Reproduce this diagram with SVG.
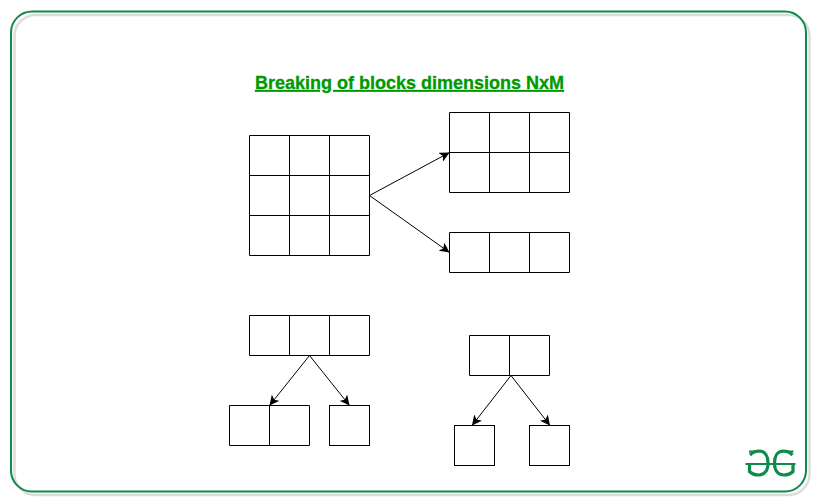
<svg xmlns="http://www.w3.org/2000/svg" width="819" height="504" viewBox="0 0 819 504">
<style>
.c{fill:none;stroke:#000;stroke-width:1}
.l{fill:none;stroke:#000;stroke-width:1;marker-end:url(#a)}
.g{fill:none;stroke:#0f8a4a;stroke-width:2}
.b{fill:none;stroke:#0f8a4a;stroke-width:3.2}
</style>
<defs><marker id="a" markerUnits="userSpaceOnUse" markerWidth="12" markerHeight="10" refX="10" refY="5" orient="auto"><path d="M0 0L10 5L0 10L2.500 5Z" fill="#000"/></marker></defs>
<rect width="819" height="504" fill="#fff"/>
<g id="frame">
<rect x="14.500" y="15" width="795" height="480" rx="21" fill="none" stroke="#dcdcdc" stroke-width="2.400"/>
<rect x="11" y="11.500" width="795" height="480" rx="21" fill="none" stroke="#0f8a4a" stroke-width="2"/>
</g>
<text id="title" x="409.500" y="89" text-anchor="middle" font-family="Liberation Sans,Arial,sans-serif" font-size="18" font-weight="700" fill="#009900" stroke="#009900" stroke-width="0.300" text-decoration="underline">Breaking of blocks dimensions NxM</text>
<g id="grid-3x3"><path class="c" d="M249.500 135.500h120v120h-120zM289.500 135.500v120M329.500 135.500v120M249.500 175.500h120M249.500 215.500h120"/></g>
<g id="grid-2x3"><path class="c" d="M449.500 112.500h120v80h-120zM489.500 112.500v80M529.500 112.500v80M449.500 152.500h120"/></g>
<g id="grid-1x3-right"><path class="c" d="M449.500 232.500h120v40h-120zM489.500 232.500v40M529.500 232.500v40"/></g>
<g id="grid-1x3-bottom"><path class="c" d="M249.500 315.500h120v40h-120zM289.500 315.500v40M329.500 315.500v40"/></g>
<g id="grid-1x2-left"><path class="c" d="M229.500 405.500h80v40h-80zM269.500 405.500v40"/></g>
<g id="grid-1x1-a"><rect class="c" x="329.500" y="405.500" width="40" height="40"/></g>
<g id="grid-1x2-top"><path class="c" d="M469.500 335.500h80v40h-80zM509.500 335.500v40"/></g>
<g id="grid-1x1-b"><rect class="c" x="454.500" y="425.500" width="40" height="40"/></g>
<g id="grid-1x1-c"><rect class="c" x="529.500" y="425.500" width="40" height="40"/></g>
<g id="connectors">
<line class="l" x1="369.500" y1="195.500" x2="449.500" y2="152.500"/>
<line class="l" x1="369.500" y1="195.500" x2="449.500" y2="252.500"/>
<line class="l" x1="309.500" y1="355.500" x2="269.500" y2="405.500"/>
<line class="l" x1="309.500" y1="355.500" x2="349.500" y2="405.500"/>
<line class="l" x1="511" y1="375.500" x2="472" y2="425.500"/>
<line class="l" x1="511" y1="375.500" x2="550" y2="425.500"/>
</g>
<g id="logo">
<path class="g" d="M749 451.500h11M745.500 464h50M782 451.500h11.500"/>
<path class="b" d="M750 455c3-3 6-4 9-4 6 0 9 5 9 12s-3 12-9.500 12c-4 0-7-1.500-9-3.500V464"/>
<path class="b" d="M792.500 455c-3-3-6-4-9-4-6 0-9 5-9 12s3 12 9.500 12c4 0 7-1.500 9-3.500V464"/>
</g>
</svg>
